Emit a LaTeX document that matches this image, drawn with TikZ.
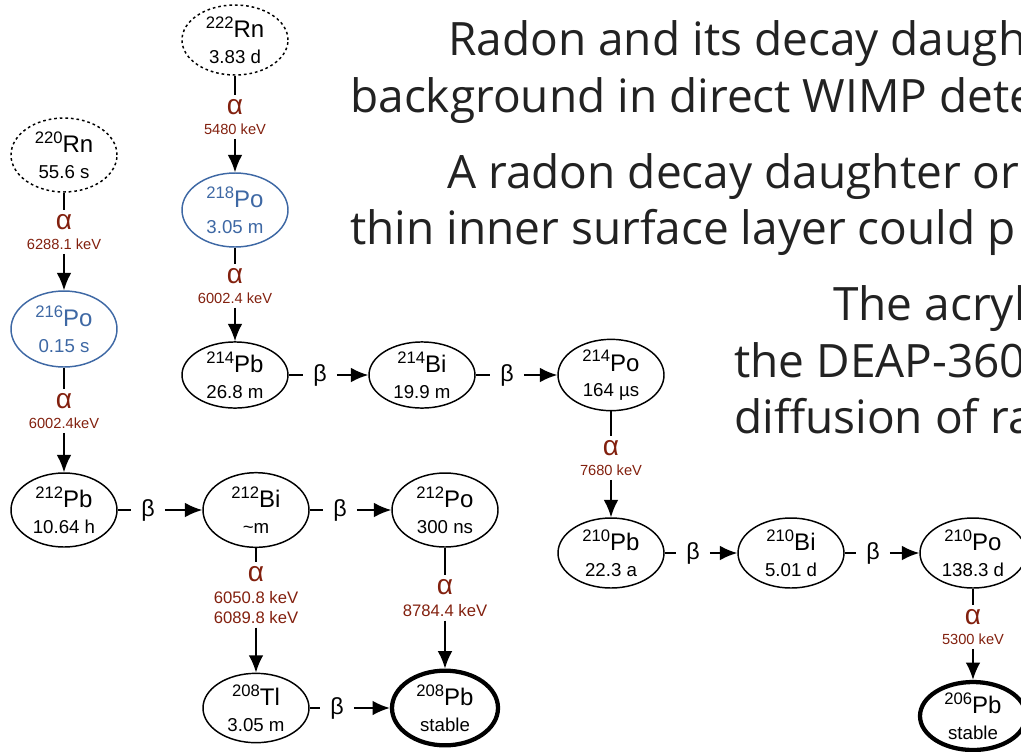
\documentclass[tikz,border=0pt]{standalone}
\usepackage{fontspec}
\setmainfont{Liberation Sans}
\newfontfamily\slidefont{Open Sans}
\usetikzlibrary{shapes.geometric,arrows.meta,positioning}

\definecolor{alphared}{RGB}{130,32,14}
\definecolor{poblue}{RGB}{62,104,164}
\definecolor{slidegray}{RGB}{34,34,34}

% isotope: mass number, element, half-life
\newcommand{\iso}[3]{\raisebox{0.4em}{\fontsize{12.5}{12}\selectfont #1}#2\\{\fontsize{14}{19}\selectfont #3}}
\newcommand{\alf}{{\fontsize{21}{19}\selectfont α}\\[1pt]}

\begin{document}
\begin{tikzpicture}[x=0.75pt, y=-0.75pt, >={Latex[length=13pt,width=11pt]},
    nuc/.style={ellipse, draw, line width=1.1pt, inner sep=0pt, minimum width=79.5pt,
      minimum height=52.5pt, align=center, font=\fontsize{18}{19}\selectfont},
    nucblue/.style={nuc, draw=poblue, text=poblue},
    nucgas/.style={nuc, dash pattern=on 2pt off 2.2pt},
    nucend/.style={nuc, line width=3.2pt},
    alab/.style={text=alphared, align=center, inner xsep=1pt, inner ysep=3pt,
      font=\fontsize{11}{14}\selectfont},
    alabbig/.style={alab, font=\fontsize{12.5}{15}\selectfont},
    blab/.style={inner xsep=7.5pt, inner ysep=0pt, font=\fontsize{17.5}{18}\selectfont},
    link/.style={line width=1.4pt},
    slide/.style={inner sep=0pt, anchor=base west, text=slidegray,
      font=\slidefont\fontsize{34.5}{40}\selectfont}]
  \useasboundingbox (0,0) rectangle (1021,751);
  \clip (0,0) rectangle (1021,751);

  % slide text
  \node[slide] (t1) at (448,55) {Radon and its decay daugh};
  \node[slide] (t2) at (350,112) {background in direct WIMP dete};
  \node[slide] (t3) at (447,188) {A radon decay daughter or};
  \node[slide] (t4) at (350,244) {thin inner surface layer could p};
  \node[slide] (t5) at (833,320) {The acryl};
  \node[slide] (t6) at (734,377) {the DEAP-360};
  \node[slide] (t7) at (734,433) {diffusion of ra};

  % 222Rn chain
  \node[nucgas] (rn222) at (235,40) {\iso{222}{Rn}{3.83 d}};
  \node[alab] (a1) at (235,117) {\alf 5480 keV};
  \node[nucblue, minimum height=55.5pt] (po218) at (235,210) {\iso{218}{Po}{3.05 m}};
  \node[alab] (a2) at (235,286) {\alf 6002.4 keV};
  \node[nuc, minimum height=45pt] (pb214) at (235,375) {\iso{214}{Pb}{26.8 m}};
  \node[blab] (b1) at (320,375) {β};
  \node[nuc, minimum height=45pt] (bi214) at (422,375) {\iso{214}{Bi}{19.9 m}};
  \node[blab] (b2) at (507,375) {β};
  \node[nuc, minimum height=45pt] (po214) at (611,375) {\iso{214}{Po}{164 µs}};
  \node[alab] (a3) at (611,458) {\alf 7680 keV};
  \node[nuc] (pb210) at (611,553) {\iso{210}{Pb}{22.3 a}};
  \node[blab] (b3) at (693,553) {β};
  \node[nuc] (bi210) at (791,553) {\iso{210}{Bi}{5.01 d}};
  \node[blab] (b4) at (873,553) {β};
  \node[nuc] (po210) at (973,553) {\iso{210}{Po}{138.3 d}};
  \node[alab] (a4) at (973,627) {\alf 5300 keV};
  \node[nucend, minimum height=51pt] (pb206) at (973,716) {\iso{206}{Pb}{stable}};

  % 220Rn chain
  \node[nucgas, minimum height=55.5pt] (rn220) at (64,155) {\iso{220}{Rn}{55.6 s}};
  \node[alab] (a5) at (64,232) {\alf 6288.1 keV};
  \node[nucblue, minimum height=57pt] (po216) at (64,329) {\iso{216}{Po}{0.15 s}};
  \node[alab] (a6) at (64,411) {\alf 6002.4keV};
  \node[nuc, minimum height=55.5pt] (pb212) at (64,510) {\iso{212}{Pb}{10.64 h}};
  \node[blab] (b5) at (148,510) {β};
  \node[nuc, minimum height=56pt] (bi212) at (256,510) {\iso{212}{Bi}{\textasciitilde m}};
  \node[blab] (b6) at (340,510) {β};
  \node[nuc, minimum height=55.5pt] (po212) at (445,510) {\iso{212}{Po}{300 ns}};
  \node[alabbig] (a7) at (256,595) {\alf 6050.8 keV\\6089.8 keV};
  \node[alabbig] (a8) at (445,598) {\alf 8784.4 keV};
  \node[nuc, minimum height=52pt] (tl208) at (256,708) {\iso{208}{Tl}{3.05 m}};
  \node[blab] (b7) at (337,708) {β};
  \node[nucend, minimum height=56pt] (pb208) at (445,708) {\iso{208}{Pb}{stable}};

  % decays
  \draw[link] (rn222) -- (a1);  \draw[link,->] (a1) -- (po218);
  \draw[link] (po218) -- (a2);  \draw[link,->] (a2) -- (pb214);
  \draw[link] (pb214) -- (b1);  \draw[link,->] (b1) -- (bi214);
  \draw[link] (bi214) -- (b2);  \draw[link,->] (b2) -- (po214);
  \draw[link] (po214) -- (a3);  \draw[link,->] (a3) -- (pb210);
  \draw[link] (pb210) -- (b3);  \draw[link,->] (b3) -- (bi210);
  \draw[link] (bi210) -- (b4);  \draw[link,->] (b4) -- (po210);
  \draw[link] (po210) -- (a4);  \draw[link,->] (a4) -- (pb206);
  \draw[link] (rn220) -- (a5);  \draw[link,->] (a5) -- (po216);
  \draw[link] (po216) -- (a6);  \draw[link,->] (a6) -- (pb212);
  \draw[link] (pb212) -- (b5);  \draw[link,->] (b5) -- (bi212);
  \draw[link] (bi212) -- (b6);  \draw[link,->] (b6) -- (po212);
  \draw[link] (bi212) -- (a7);  \draw[link,->] (a7) -- (tl208);
  \draw[link] (po212) -- (a8);  \draw[link,->] (a8) -- (pb208);
  \draw[link] (tl208) -- (b7);  \draw[link,->] (b7) -- (pb208);
\end{tikzpicture}
\end{document}
